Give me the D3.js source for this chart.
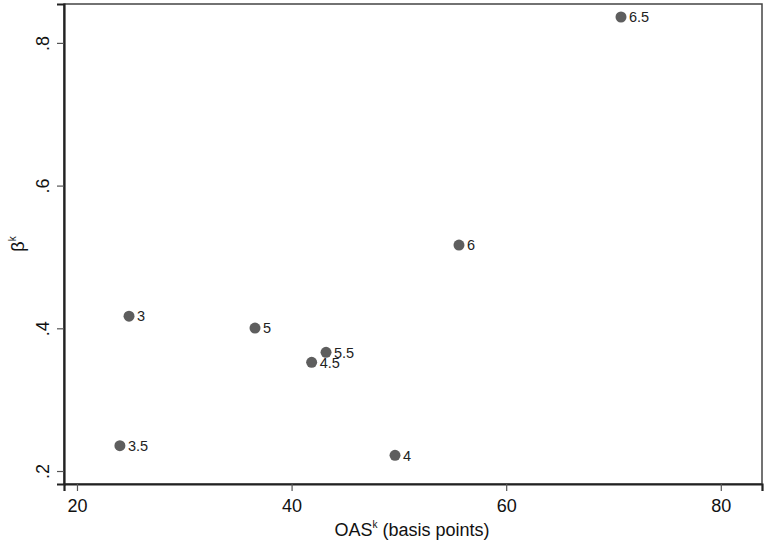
<!DOCTYPE html>
<html>
<head>
<meta charset="utf-8">
<script src="https://cdn.jsdelivr.net/npm/d3@7"></script>
<style>
  body { margin: 0; background: #fff; }
  svg { font-family: "Liberation Sans", Arial, sans-serif; }
</style>
</head>
<body>
<svg id="chart" width="767" height="546"></svg>
<script>
// coupon labels, spread (bp) and beta per coupon
const labels = ['3', '3.5', '4', '4.5', '5', '5.5', '6', '6.5'];
const oas = [24.85, 24.0, 49.64, 41.87, 36.59, 43.21, 55.6, 70.7];
const beta = [0.417, 0.2355, 0.222, 0.3523, 0.4004, 0.3664, 0.5167, 0.8363];

const xTicks = [20, 40, 60, 80];
const yTicks = [0.2, 0.4, 0.6, 0.8];

const svg = d3.select('#chart');
const m = { left: 64, right: 762, top: 4, bottom: 484 };

const x = d3.scaleLinear().domain([18.79, 83.84]).range([m.left, m.right]);
const y = d3.scaleLinear().domain([0.1818, 0.8545]).range([m.bottom, m.top]);

// plot region border
svg.append('rect')
  .attr('x', m.left).attr('y', m.top)
  .attr('width', m.right - m.left).attr('height', m.bottom - m.top)
  .attr('fill', 'none').attr('stroke', '#444').attr('stroke-width', 1.5);

const xAxis = d3.axisBottom(x).tickValues(xTicks).tickSize(7).tickPadding(8).tickFormat(d3.format('d'));
const yAxis = d3.axisLeft(y).tickValues(yTicks).tickSize(7).tickPadding(6)
  .tickFormat(d => d3.format('.1f')(d).replace(/^0/, ''));

const gx = svg.append('g').attr('transform', `translate(0,${m.bottom})`).call(xAxis);
const gy = svg.append('g').attr('transform', `translate(${m.left},0)`).call(yAxis);

[gx, gy].forEach(g => {
  g.select('.domain').attr('stroke', '#222').attr('stroke-width', 2.2);
  g.selectAll('.tick line').attr('stroke', '#555').attr('stroke-width', 1.2);
  g.selectAll('.tick text').attr('fill', '#111').style('font-size', '18px');
});

gy.selectAll('.tick text')
  .attr('text-anchor', 'middle')
  .attr('x', 0).attr('dy', 0)
  .attr('transform', 'translate(-15,0) rotate(-90)');

// axis titles
const xt = svg.append('text')
  .attr('x', 412).attr('y', 536)
  .attr('text-anchor', 'middle')
  .style('font-size', '18px').attr('fill', '#111');
xt.append('tspan').text('OAS');
xt.append('tspan').text('k').attr('dy', -8).style('font-size', '10px');
xt.append('tspan').text(' (basis points)').attr('dy', 8);

const yt = svg.append('text')
  .attr('transform', 'translate(24,244) rotate(-90)')
  .attr('text-anchor', 'middle')
  .style('font-size', '18px').attr('fill', '#111');
yt.append('tspan').text('β');
yt.append('tspan').text('k').attr('dy', -8).style('font-size', '10px');

// points
const pts = labels.map((l, i) => ({ label: l, x: oas[i], y: beta[i] }));

svg.append('g').selectAll('circle')
  .data(pts).join('circle')
  .attr('cx', d => x(d.x)).attr('cy', d => y(d.y))
  .attr('r', 5.5).attr('fill', '#5e5e5e');

svg.append('g').selectAll('text')
  .data(pts).join('text')
  .attr('x', d => x(d.x) + 8).attr('y', d => y(d.y))
  .attr('dy', '0.36em')
  .style('font-size', '14.5px').attr('fill', '#222')
  .text(d => d.label);
</script>
</body>
</html>
